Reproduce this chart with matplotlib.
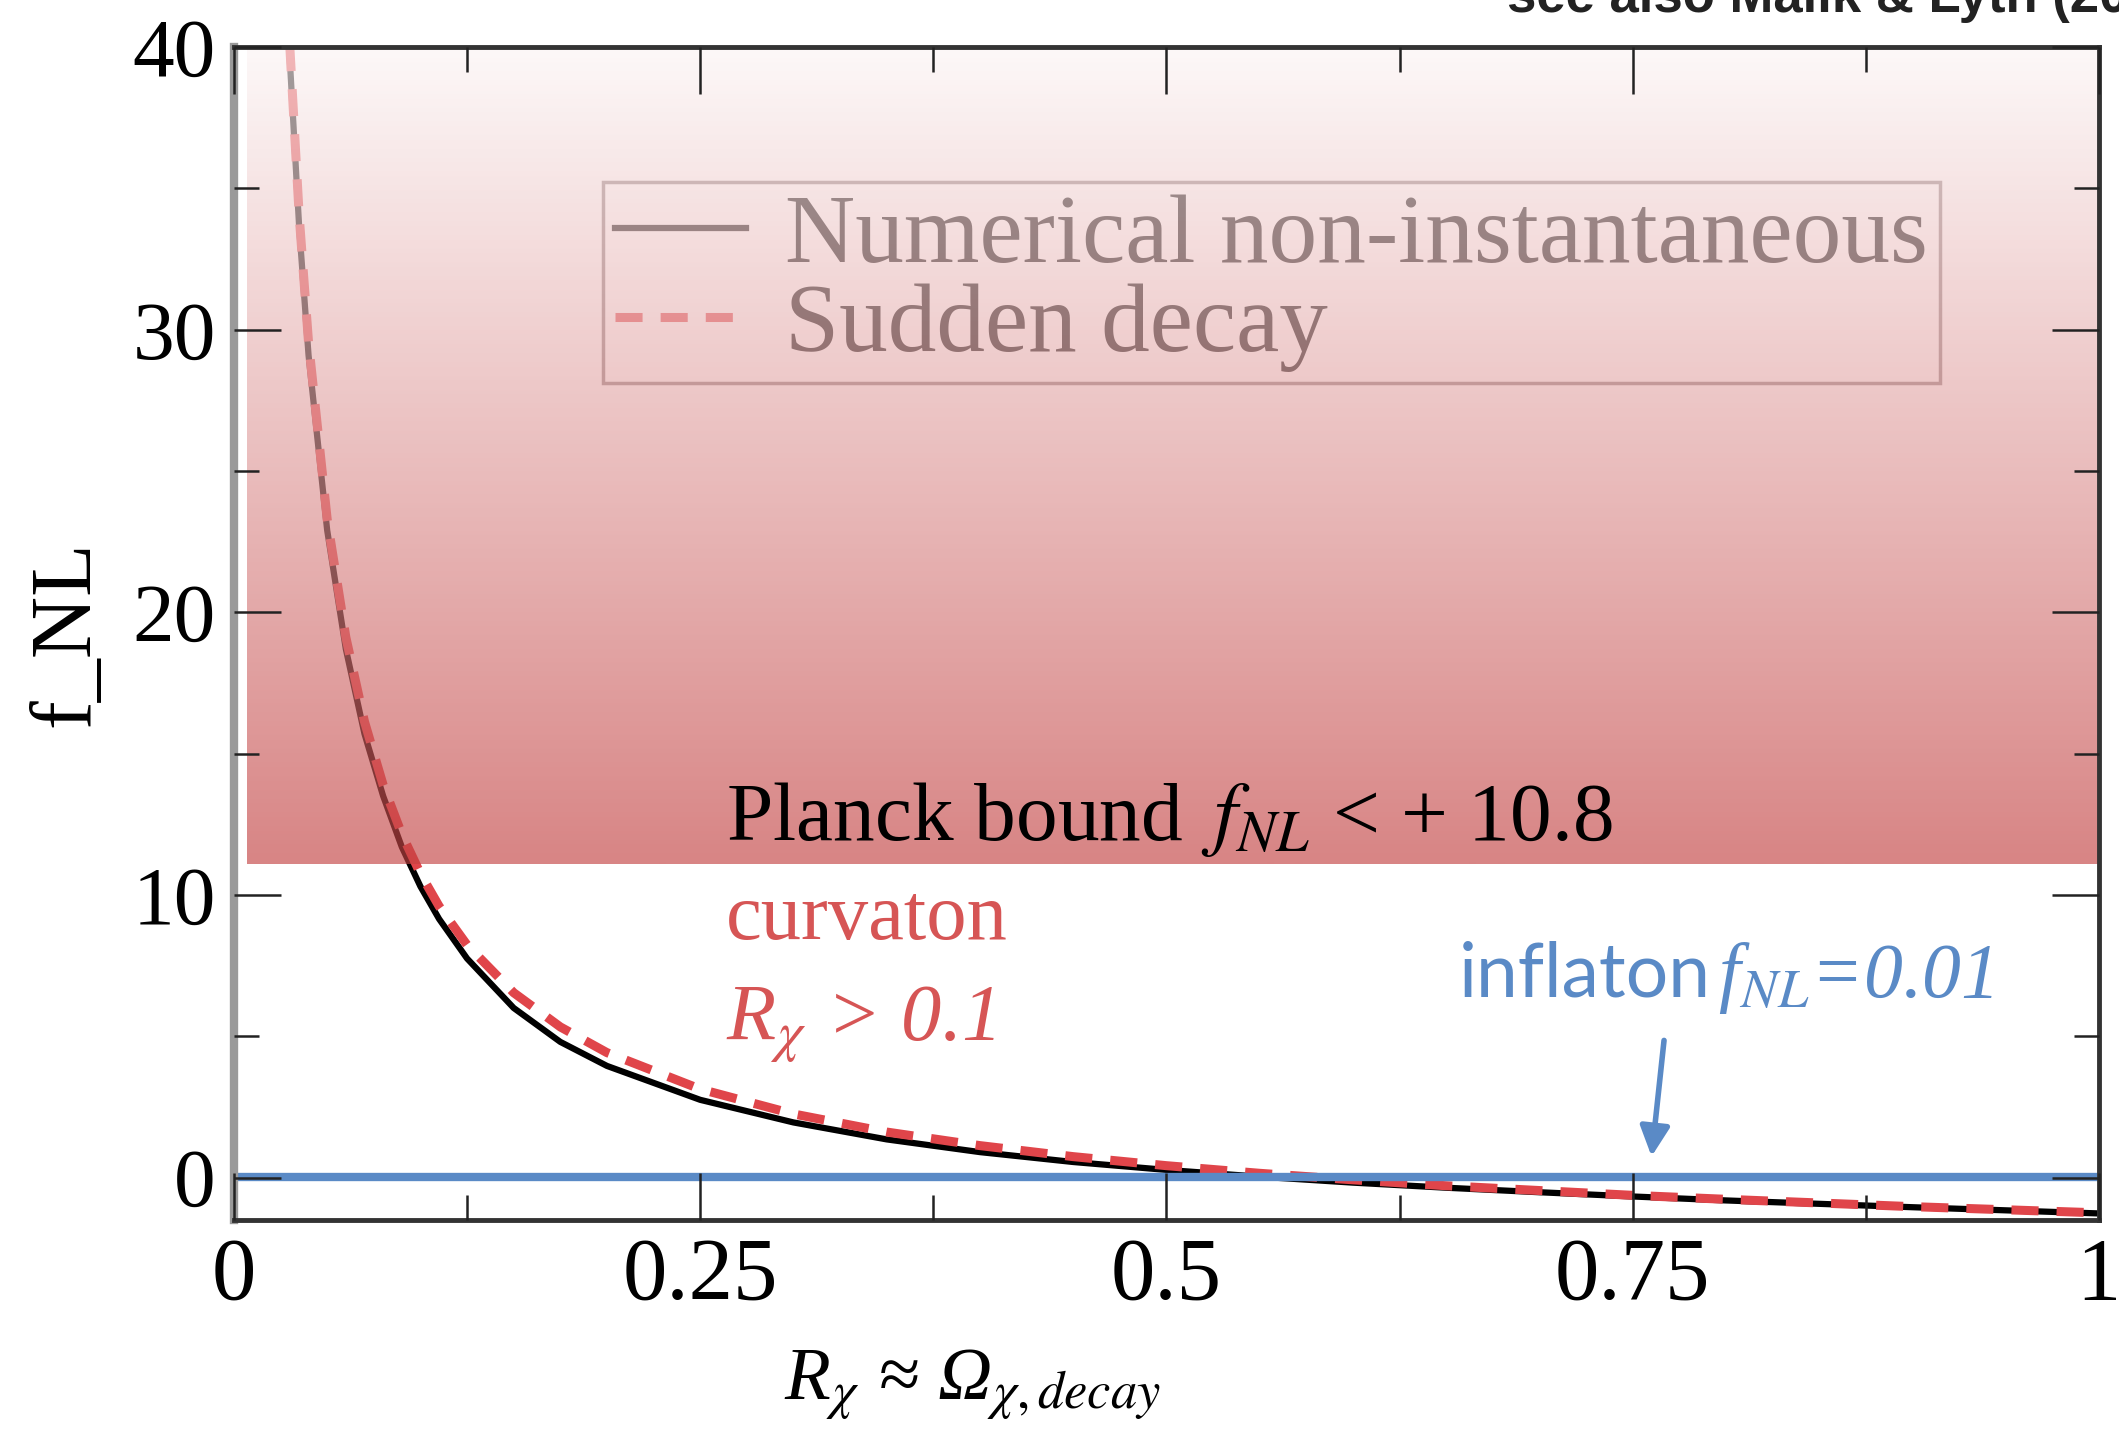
import numpy as np
import matplotlib
matplotlib.use("Agg")
import matplotlib.pyplot as plt
from matplotlib.ticker import MultipleLocator

plt.rcParams['font.family'] = ['Liberation Serif', 'DejaVu Serif']
plt.rcParams['mathtext.fontset'] = 'stix'

# values
r_vals = [0.028, 0.03, 0.035, 0.04, 0.05, 0.06, 0.07, 0.08, 0.09, 0.1, 0.11, 0.125,
          0.15, 0.175, 0.2, 0.25, 0.3, 0.35, 0.4, 0.45, 0.5, 0.55, 0.6, 0.65, 0.7,
          0.75, 0.8, 0.85, 0.9, 0.95, 1.0]
fnl_numerical = [42.5, 39.5, 33.6, 29.1, 22.9, 18.7, 15.7, 13.5, 11.7, 10.3, 9.15, 7.75,
                 6.0, 4.8, 3.95, 2.75, 1.95, 1.35, 0.9, 0.55, 0.27, 0.03, -0.18, -0.36,
                 -0.52, -0.67, -0.81, -0.93, -1.05, -1.16, -1.27]
fnl_sudden = [42.95, 39.97, 34.02, 29.55, 23.29, 19.12, 16.13, 13.89, 12.15, 10.75, 9.60,
              8.23, 6.54, 5.33, 4.42, 3.13, 2.25, 1.61, 1.13, 0.74, 0.42, 0.15, -0.08,
              -0.29, -0.46, -0.63, -0.77, -0.90, -1.03, -1.14, -1.25]
planck_bound = 11.1
inflaton_fnl = 0.01
xticks = [0, 0.25, 0.5, 0.75, 1]
xticklabels = ['0', '0.25', '0.5', '0.75', '1']
yticks = [0, 10, 20, 30, 40]

BLUE = '#5a8ac6'
RED = '#e0454a'
CURV_RED = '#d65555'

fig = plt.figure(figsize=(21.19, 14.29), dpi=100)
ax = fig.add_axes([0.1104, 0.1463, 0.8801, 0.8208])

ax.plot(r_vals, fnl_numerical, color='black', lw=4.5, zorder=2,
        label='Numerical non-instantaneous')
ax.plot(r_vals, fnl_sudden, color=RED, lw=6.5, dashes=(3, 2), zorder=3,
        label='Sudden decay')
ax.axhline(inflaton_fnl, color=BLUE, lw=6, zorder=4)

leg = ax.legend(loc='upper left', bbox_to_anchor=(0.198, 0.885), borderaxespad=0,
                fontsize=70, handlelength=1.35, handletextpad=0.4, labelspacing=0.0,
                borderpad=0.12, fancybox=False, framealpha=1.0)
leg.get_frame().set_facecolor('white')
leg.get_frame().set_edgecolor('#8a7a7a')
leg.get_frame().set_linewidth(2.5)
leg.set_zorder(5)

# washed-out gradient band above the Planck bound
n = 256
t = np.linspace(0, 1, n)[:, None]
bottom = np.array([195, 66, 66]) / 255
top = np.array([252, 245, 245]) / 255
rgb = bottom + (top - bottom) * t
rgba = np.zeros((n, 1, 4))
rgba[..., :3] = rgb[:, None, :]
rgba[..., 3] = 0.65
ax.imshow(rgba, extent=[0.007, 1.0, planck_bound, 40], aspect='auto',
          origin='lower', zorder=6, interpolation='bilinear')

ax.text(0.264, 11.95, r'Planck bound $\,f_{NL}$ < + 10.8', fontsize=60,
        color='black', va='baseline', zorder=10)
ax.text(0.264, 8.45, 'curvaton', fontsize=58, color=CURV_RED, va='baseline', zorder=10)
ax.text(0.264, 4.85, r'R$_{\chi}$ > 0.1', fontsize=58, color=CURV_RED,
        fontstyle='italic', va='baseline', zorder=10)
ax.text(0.792, 6.4, 'inflaton', fontsize=54, color=BLUE, ha='right',
        family=['Lato', 'DejaVu Sans'], va='baseline', zorder=10)
ax.text(0.796, 6.4, r'f$_{NL}$=0.01', fontsize=56, color=BLUE, ha='left',
        fontstyle='italic', va='baseline', zorder=10)
ax.annotate('', xy=(0.760, 0.65), xytext=(0.767, 4.95),
            arrowprops=dict(arrowstyle='-|>', lw=4, color=BLUE, mutation_scale=45),
            zorder=10)

ax.set_xlim(0, 1)
ax.set_ylim(-1.5, 40)
ax.set_xticks(xticks)
ax.set_xticklabels(xticklabels)
ax.set_yticks(yticks)
ax.xaxis.set_minor_locator(MultipleLocator(0.125))
ax.yaxis.set_minor_locator(MultipleLocator(5))
ax.tick_params(which='both', direction='in', top=True, right=True, color='#222222')
ax.tick_params(which='major', length=34, width=1.8)
ax.tick_params(which='minor', length=18, width=1.8)
ax.tick_params(axis='x', labelsize=64, pad=12)
ax.tick_params(axis='y', labelsize=60, pad=13)
ax.xaxis.set_zorder(20)
ax.yaxis.set_zorder(20)

for side in ['top', 'bottom', 'right']:
    ax.spines[side].set_color('#333333')
    ax.spines[side].set_linewidth(3.5)
    ax.spines[side].set_zorder(20)
ax.spines['left'].set_color('#9a9a9a')
ax.spines['left'].set_linewidth(6)
ax.spines['left'].set_zorder(20)

ax.set_ylabel('f_NL', fontsize=62, va='center')
ax.yaxis.set_label_coords(-0.089, 0.5)
ax.set_xlabel(r'R$_{\chi}$ ≈ Ω$_{\chi,decay}$', fontsize=54, fontstyle='italic',
              va='center')
ax.xaxis.set_label_coords(0.396, -0.141)

fig.text(0.711, 0.9916, 'see also Malik & Lyth (2006)', family=['Liberation Sans'],
         fontweight='bold', fontsize=38, color='#222222', va='baseline')

fig.savefig('out.png', dpi=100)
